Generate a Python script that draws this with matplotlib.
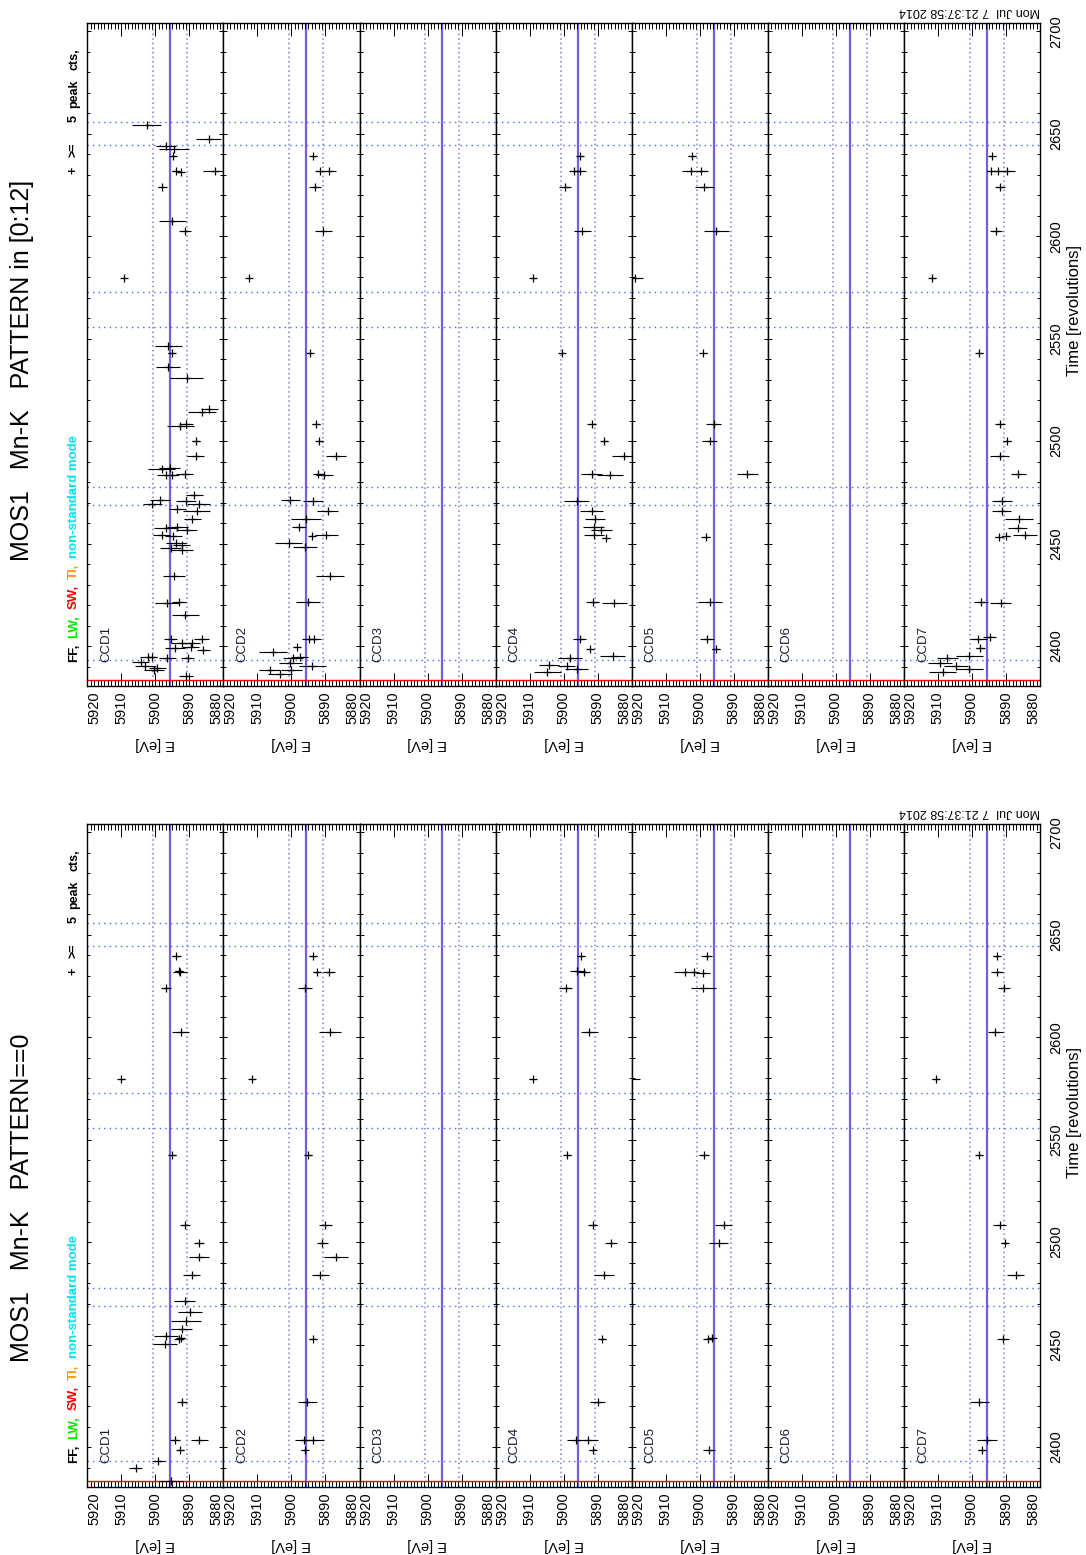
import matplotlib
matplotlib.use("Agg")
import matplotlib.pyplot as plt
from matplotlib.ticker import MultipleLocator

plt.rcParams['font.family'] = ['Liberation Sans', 'DejaVu Sans']

# ---- data: (time [rev], energy [eV], energy error [eV]) ----
# PATTERN==0
p0_ccd1_t = [2639.4, 2631.6, 2632.4, 2624.2, 2602.3, 2579.7, 2542.4, 2508.5, 2499.6, 2492.6, 2484.1, 2471.4, 2466.1,
             2461.4, 2457.8, 2454.2, 2450.2, 2452.5, 2453.0, 2421.8, 2403.6, 2403.6, 2398.5, 2393.0, 2389.8, 2383.5]
p0_ccd1_e = [5893.8, 5892.7, 5893.0, 5896.9, 5892.5, 5910.0, 5895.0, 5891.3, 5887.1, 5887.1, 5889.3, 5891.4, 5889.9,
             5891.0, 5892.3, 5896.9, 5897.1, 5893.0, 5892.6, 5892.1, 5894.2, 5887.1, 5892.7, 5899.1, 5905.8, 5895.5]
p0_ccd1_err = [1.2, 2.0, 1.2, 1.5, 2.5, 1.0, 1.0, 1.5, 1.5, 3.0, 2.5, 3.0, 3.5,
               4.4, 3.0, 3.5, 3.5, 1.5, 1.2, 1.5, 1.5, 2.5, 1.0, 2.0, 2.0, 3.5]

p0_ccd2_t = [2639.4, 2631.6, 2632.0, 2624.2, 2602.3, 2579.7, 2542.4, 2508.5, 2499.6, 2492.6, 2484.1, 2452.5, 2421.8,
             2403.6, 2403.2, 2398.5]
p0_ccd2_e = [5893.7, 5892.4, 5889.0, 5896.0, 5888.7, 5911.6, 5895.1, 5890.0, 5890.9, 5886.9, 5891.6, 5893.6, 5895.4,
             5896.4, 5893.8, 5896.1]
p0_ccd2_err = [1.2, 1.2, 1.8, 2.0, 3.2, 1.0, 1.0, 1.8, 1.5, 3.5, 2.5, 1.2, 2.8, 2.5, 3.5, 1.0]

p0_ccd4_t = [2639.4, 2632.4, 2631.6, 2624.2, 2602.3, 2579.7, 2542.4, 2508.5, 2499.6, 2484.1, 2452.5, 2421.8, 2403.6,
             2403.6, 2398.5]
p0_ccd4_e = [5895.0, 5896.0, 5894.0, 5899.4, 5892.5, 5909.1, 5898.9, 5891.5, 5886.1, 5888.1, 5888.8, 5890.0, 5896.5,
             5892.8, 5891.5]
p0_ccd4_err = [1.2, 2.2, 1.8, 2.0, 2.5, 1.0, 1.0, 1.2, 1.8, 3.0, 1.2, 2.2, 2.5, 3.0, 1.0]

p0_ccd5_t = [2639.4, 2631.6, 2631.6, 2631.2, 2624.2, 2579.7, 2542.4, 2508.5, 2499.6, 2452.5, 2453.0, 2398.5]
p0_ccd5_e = [5898.0, 5904.2, 5901.7, 5899.1, 5899.0, 5920.5, 5898.7, 5892.9, 5894.4, 5897.5, 5896.5, 5897.2]
p0_ccd5_err = [1.5, 3.5, 1.5, 2.0, 3.7, 3.0, 1.5, 2.5, 2.8, 1.5, 1.5, 1.8]

p0_ccd7_t = [2639.4, 2631.6, 2624.2, 2602.3, 2579.7, 2542.4, 2508.5, 2499.6, 2484.1, 2452.5, 2421.8, 2403.6, 2398.5]
p0_ccd7_e = [5892.7, 5892.6, 5890.6, 5893.2, 5910.6, 5897.8, 5891.9, 5890.4, 5887.2, 5890.9, 5897.8, 5895.5, 5897.1]
p0_ccd7_err = [1.0, 1.8, 1.8, 2.2, 1.0, 1.0, 1.8, 1.0, 2.5, 1.8, 2.8, 3.0, 1.0]

# PATTERN in [0:12]
p12_ccd1_t = [2654.2, 2647.5, 2644.1, 2642.6, 2639.0, 2632.0, 2631.4, 2631.6, 2623.9, 2607.2, 2602.3, 2579.4, 2546.2,
              2543.0, 2536.0, 2530.7, 2514.4, 2515.5, 2507.4, 2508.1, 2500.0, 2492.6, 2486.2, 2486.9, 2483.3, 2483.3,
              2484.1, 2469.3, 2471.4, 2471.0, 2473.5, 2469.3, 2466.7, 2465.7, 2461.9, 2457.8, 2458.3, 2456.6, 2454.0,
              2453.6, 2450.4, 2449.4, 2447.7, 2447.0, 2434.3, 2420.8, 2421.6, 2415.3, 2403.6, 2401.5, 2403.6, 2401.5,
              2398.9, 2399.4, 2397.9, 2394.7, 2394.7, 2394.1, 2394.1, 2392.0, 2390.5, 2389.4, 2388.3, 2385.2]
p12_ccd1_e = [5902.6, 5884.3, 5896.8, 5894.5, 5894.8, 5894.0, 5892.5, 5882.6, 5897.9, 5895.0, 5891.3, 5909.3, 5896.2,
              5895.2, 5896.4, 5890.8, 5886.3, 5884.1, 5892.7, 5891.0, 5888.1, 5888.1, 5898.1, 5895.8, 5896.9, 5895.0,
              5891.3, 5900.9, 5898.6, 5891.0, 5888.6, 5887.3, 5893.5, 5887.9, 5889.1, 5896.9, 5893.5, 5890.8, 5898.1,
              5894.8, 5894.0, 5892.2, 5895.5, 5892.3, 5894.5, 5896.6, 5893.0, 5891.2, 5895.5, 5892.3, 5886.4, 5889.3,
              5894.2, 5889.6, 5885.9, 5902.1, 5900.9, 5896.5, 5890.5, 5904.3, 5902.9, 5899.4, 5900.4, 5891.0]
p12_ccd1_err = [4.4, 3.7, 3.0, 4.4, 1.0, 1.2, 1.0, 3.5, 1.2, 4.0, 1.8, 0.8, 4.0,
                1.0, 3.5, 4.9, 4.0, 2.5, 4.0, 2.0, 1.2, 2.5, 4.0, 3.0, 2.5, 2.0,
                2.5, 2.8, 3.0, 3.0, 2.5, 3.5, 2.5, 4.0, 2.5, 3.5, 3.0, 3.0, 2.5,
                2.5, 3.0, 2.5, 3.0, 3.5, 3.2, 3.5, 2.0, 4.0, 2.0, 3.0, 2.2, 2.5,
                3.0, 2.5, 2.0, 2.5, 1.5, 2.5, 2.0, 2.5, 3.0, 2.5, 3.0, 2.0]

p12_ccd2_t = [2639.0, 2631.6, 2632.0, 2623.9, 2602.3, 2579.4, 2543.0, 2508.1, 2500.0, 2492.6, 2484.1, 2483.3, 2471.4,
              2471.0, 2466.1, 2461.9, 2458.3, 2453.6, 2454.0, 2450.4, 2448.1, 2434.3, 2421.6, 2403.6, 2403.6, 2397.2,
              2399.4, 2394.7, 2394.1, 2391.5, 2388.3, 2388.3, 2386.2, 2390.5]
p12_ccd2_e = [5893.6, 5891.6, 5889.0, 5893.0, 5890.6, 5912.6, 5894.6, 5892.8, 5891.8, 5886.9, 5892.1, 5890.4, 5900.3,
              5893.6, 5889.4, 5895.6, 5897.7, 5893.9, 5889.7, 5900.8, 5896.1, 5888.7, 5895.1, 5894.8, 5893.4, 5905.4,
              5898.5, 5897.5, 5899.5, 5900.3, 5900.0, 5906.4, 5903.4, 5893.9]
p12_ccd2_err = [1.0, 1.5, 2.0, 1.8, 2.5, 0.8, 0.8, 1.2, 1.0, 2.8, 1.5, 2.5, 2.8,
                3.0, 3.0, 4.4, 2.0, 1.0, 3.5, 4.0, 3.5, 4.0, 3.5, 2.0, 2.0, 4.0,
                1.0, 2.5, 3.0, 3.5, 3.0, 3.0, 3.5, 4.0]

p12_ccd4_t = [2639.0, 2632.0, 2631.6, 2623.9, 2602.3, 2579.4, 2543.0, 2508.1, 2500.0, 2492.6, 2484.1, 2483.3, 2471.0,
              2466.1, 2461.9, 2458.3, 2456.8, 2454.0, 2452.8, 2421.6, 2421.2, 2403.6, 2398.5, 2395.1, 2394.1, 2390.9,
              2390.5, 2388.8, 2387.3]
p12_ccd4_e = [5895.2, 5897.0, 5895.2, 5899.6, 5894.5, 5909.0, 5900.4, 5891.8, 5888.1, 5882.2, 5891.8, 5886.4, 5896.2,
              5891.8, 5890.8, 5891.2, 5888.9, 5891.0, 5887.6, 5891.5, 5885.1, 5895.3, 5892.2, 5885.6, 5898.1, 5904.3,
              5899.1, 5896.2, 5904.8]
p12_ccd4_err = [1.0, 1.5, 1.8, 1.8, 2.5, 1.0, 0.8, 1.2, 1.0, 3.5, 3.0, 3.7, 3.7,
                3.5, 3.0, 3.0, 3.0, 3.0, 1.2, 2.0, 3.7, 2.0, 1.0, 3.7, 3.5, 3.0,
                2.5, 3.5, 4.0]

p12_ccd5_t = [2639.0, 2632.0, 2631.6, 2623.9, 2602.3, 2579.4, 2543.0, 2508.1, 2500.0, 2484.1, 2453.0, 2421.6, 2403.6,
              2398.5]
p12_ccd5_e = [5902.2, 5902.5, 5899.7, 5898.7, 5895.1, 5919.0, 5899.0, 5895.9, 5897.0, 5886.0, 5898.3, 5897.0, 5897.9,
              5895.3]
p12_ccd5_err = [1.2, 2.8, 2.0, 2.8, 3.7, 2.2, 1.0, 2.2, 2.2, 3.0, 1.2, 3.5, 2.0, 1.2]

p12_ccd7_t = [2639.0, 2631.6, 2632.0, 2632.0, 2623.9, 2602.3, 2579.4, 2543.0, 2508.1, 2500.0, 2492.6, 2484.1, 2471.0,
              2466.1, 2461.9, 2457.6, 2454.0, 2453.0, 2453.6, 2421.6, 2421.2, 2403.6, 2404.2, 2398.9, 2395.1, 2394.1,
              2391.5, 2390.5, 2388.8, 2387.3]
p12_ccd7_e = [5894.0, 5894.5, 5892.4, 5889.6, 5891.7, 5893.0, 5911.6, 5897.8, 5891.7, 5889.7, 5891.9, 5886.4, 5891.2,
              5891.2, 5886.2, 5886.6, 5884.5, 5892.1, 5889.9, 5897.3, 5891.6, 5898.1, 5894.8, 5897.5, 5900.8, 5907.2,
              5909.3, 5904.7, 5900.8, 5908.6]
p12_ccd7_err = [1.0, 1.2, 2.2, 2.2, 1.5, 1.8, 1.0, 1.0, 1.5, 1.2, 2.8, 2.2, 3.0,
                2.8, 4.0, 2.8, 3.5, 1.2, 1.2, 2.0, 3.2, 2.5, 2.0, 1.2, 4.0, 3.0,
                3.5, 3.5, 4.0, 4.0]

ccd_names = ["CCD1", "CCD2", "CCD3", "CCD4", "CCD5", "CCD6", "CCD7"]
e_ticks = [5920, 5910, 5900, 5890, 5880]
t_ticks = [2400, 2450, 2500, 2550, 2600, 2650, 2700]
mnk_line = 5895.7          # Mn-K line
mnk_band = [5900.7, 5890.7]
rev_marks = [2393.0, 2468.9, 2477.8, 2555.7, 2572.7, 2644.7, 2655.7]
red_mark = 2383.5
t_range = (2380.5, 2704.0)

pat0 = [(p0_ccd1_t, p0_ccd1_e, p0_ccd1_err), (p0_ccd2_t, p0_ccd2_e, p0_ccd2_err), None,
        (p0_ccd4_t, p0_ccd4_e, p0_ccd4_err), (p0_ccd5_t, p0_ccd5_e, p0_ccd5_err), None,
        (p0_ccd7_t, p0_ccd7_e, p0_ccd7_err)]
pat12 = [(p12_ccd1_t, p12_ccd1_e, p12_ccd1_err), (p12_ccd2_t, p12_ccd2_e, p12_ccd2_err), None,
         (p12_ccd4_t, p12_ccd4_e, p12_ccd4_err), (p12_ccd5_t, p12_ccd5_e, p12_ccd5_err), None,
         (p12_ccd7_t, p12_ccd7_e, p12_ccd7_err)]

W, H = 1086, 1555
fig = plt.figure(figsize=(W / 100, H / 100), dpi=100)
X0, SW = 87.3, 136.1


def fx(px):
    return px / W


def fy(py):
    return 1 - py / H


def rainbow(x, y, pieces, size, gaps):
    # vertical text read bottom to top, piece by piece on a common baseline
    r = fig.canvas.get_renderer()
    for (txt, col), gap in zip(pieces, gaps):
        t = fig.text(fx(x), fy(y), txt, rotation=90, rotation_mode='anchor', ha='left',
                     va='baseline', color=col, fontsize=size, fontweight='bold')
        y -= t.get_window_extent(renderer=r).height + gap


def panel(ytop, ybot, data, title):
    hgt = ybot - ytop
    for i in range(7):
        ax = fig.add_axes([fx(X0 + i * SW), fy(ybot), SW / W, hgt / H])
        ax.set_xlim(5920, 5880)
        ax.set_ylim(*t_range)
        ax.axvline(mnk_line, color='#7b5ce0', lw=1.6, zorder=1)
        for e in mnk_band:
            ax.axvline(e, color='#9370db', lw=1.1, ls=(0, (1, 2)), zorder=1)
        for t in rev_marks:
            ax.axhline(t, color='#3f6df2', lw=1.0, ls=(0, (1, 3)), zorder=1)
        ax.axhline(red_mark, color='red', lw=1.0, zorder=2)
        if data[i] is not None:
            tt, ee, er = data[i]
            ax.errorbar(ee, tt, xerr=er, fmt='+', color='k', ms=6, mew=0.9,
                        elinewidth=0.8, capsize=0, zorder=3)
        ax.text(19 / SW, 2392.2, ccd_names[i], transform=ax.get_yaxis_transform(),
                rotation=90, fontsize=9.5, ha='center', va='bottom', color='#1a1a2e')
        ax.xaxis.set_minor_locator(MultipleLocator(1))
        ax.yaxis.set_minor_locator(MultipleLocator(10))
        ax.set_xticks(e_ticks, labels=[str(v) for v in e_ticks])
        for lab, ha in zip(ax.get_xticklabels(), ['left', 'center', 'center', 'center', 'right']):
            lab.set_ha(ha)
            lab.set_rotation(90)
        ax.set_yticks(t_ticks, labels=[str(v) for v in t_ticks] if i == 6 else [])
        ax.tick_params(axis='x', which='both', direction='in', top=True, bottom=True,
                       labelsize=10.5, pad=4, width=0.7)
        ax.tick_params(axis='x', which='major', length=9.5)
        ax.tick_params(axis='x', which='minor', length=4.5)
        ax.tick_params(axis='y', which='both', direction='in', left=True, right=True,
                       labelleft=False, labelright=(i == 6), labelsize=10.5, pad=11.5,
                       width=0.7)
        ax.tick_params(axis='y', which='major', length=3)
        ax.tick_params(axis='y', which='minor', length=2)
        if i == 6:
            for lab in ax.get_yticklabels():
                lab.set_rotation(90)
                lab.set_va('center')
                lab.set_ha('center')
        for s in ax.spines.values():
            s.set_linewidth(1.0)
        ax.text(0.5, -58 / hgt, 'E [eV]', transform=ax.transAxes, rotation=180,
                ha='center', va='center', fontsize=10.5)
    fig.text(fx(22), fy(ytop + 538), title, rotation=90, ha='center', va='bottom', fontsize=18)
    rainbow(77, ytop + 639, [("FF,", 'black'), ("LW,", '#00ee00'), ("SW,", 'red'),
                             ("TI,", '#ff9900'), ("non-standard mode", '#00e5ee')], 9.5, [6] * 5)
    rainbow(77, ytop + 151, [("+", 'black'), (">=", 'black'), ("5", 'black'),
                             ("peak", 'black'), ("cts,", 'black')], 9, [10, 20, 7, 10, 0])
    fig.text(fx(1040), fy(ytop - 12), "Mon Jul  7 21:37:58 2014", rotation=180, ha='right',
             va='center', fontsize=9)
    fig.text(fx(1075), fy(ytop + 288), "Time [revolutions]", rotation=90, ha='center',
             va='center', fontsize=12)


panel(23, 686, pat12, "MOS1   Mn-K   PATTERN in [0:12]")
panel(824, 1487, pat0, "MOS1   Mn-K   PATTERN==0")

fig.savefig("out.png", dpi=100)
